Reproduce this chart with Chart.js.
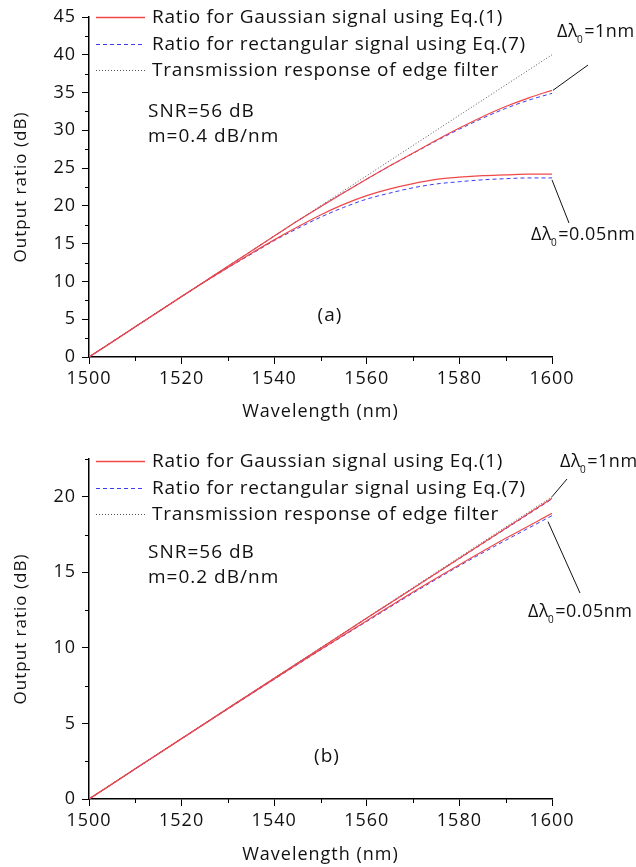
<!DOCTYPE html>
<html>
<head>
<meta charset="utf-8">
<script src="https://cdn.jsdelivr.net/npm/chart.js@4.4.1/dist/chart.umd.min.js"></script>
<style>
    html, body { margin: 0; padding: 0; background: #fff; }
    #wrap { position: relative; width: 636px; height: 867px; }
    canvas { position: absolute; left: 0; }
</style>
</head>
<body>
<div id="wrap">
    <canvas id="chartA" width="636" height="433" style="top:0"></canvas>
    <canvas id="chartB" width="636" height="434" style="top:433px"></canvas>
</div>
<script>
// panel (a): m = 0.4 dB/nm
const wavelengthA = [1500, 1510, 1520, 1525, 1530, 1535, 1540, 1545, 1550, 1555, 1560, 1565, 1570, 1575, 1580, 1585, 1590, 1595, 1600];
const gauss1nmA   = [0, 4, 8, 10, 12, 14, 16, 18, 19.9, 21.75, 23.55, 25.3, 27.0, 28.7, 30.3, 31.8, 33.15, 34.3, 35.3];
const rect1nmA    = [0, 4, 8, 10, 12, 14, 16, 18, 19.9, 21.75, 23.55, 25.3, 26.95, 28.6, 30.15, 31.6, 32.9, 34.0, 34.9];
const filterA     = [0, 4, 8, 10, 12, 14, 16, 18, 20, 22, 24, 26, 28, 30, 32, 34, 36, 38, 40];
const gauss005A   = [0, 4, 8, 9.95, 11.85, 13.7, 15.5, 17.2, 18.8, 20.2, 21.35, 22.25, 22.95, 23.5, 23.8, 24.0, 24.1, 24.2, 24.2];
const rect005A    = [0, 4, 8, 9.95, 11.8, 13.6, 15.4, 17.0, 18.5, 19.8, 20.9, 21.7, 22.4, 22.9, 23.2, 23.45, 23.6, 23.7, 23.7];

// panel (b): m = 0.2 dB/nm
const wavelengthB = [1500, 1510, 1520, 1530, 1540, 1550, 1560, 1570, 1580, 1590, 1600];
const gauss1nmB   = [0, 2, 4, 6, 7.99, 9.98, 11.97, 13.95, 15.93, 17.92, 19.9];
const rect1nmB    = [0, 2, 4, 6, 7.99, 9.98, 11.96, 13.94, 15.91, 17.88, 19.85];
const filterB     = [0, 2, 4, 6, 8, 10, 12, 14, 16, 18, 20];
const gauss005B   = [0, 2, 3.99, 5.97, 7.94, 9.9, 11.8, 13.7, 15.5, 17.25, 18.9];
const rect005B    = [0, 2, 3.99, 5.96, 7.92, 9.86, 11.75, 13.63, 15.43, 17.12, 18.75];

const legendLabels = [
    'Ratio for Gaussian signal using Eq.(1)',
    'Ratio for rectangular signal using Eq.(7)',
    'Transmission response of edge filter'
];

const FONT = "'Open Sans', sans-serif";
const RED = '#f04848';
const BLUE = '#3c3cf2';
const GREY = '#555555';

const toPoints = (xs, ys) => xs.map((x, i) => ({ x: x, y: ys[i] }));

function drawDelta(ctx, x, y, tail) {
    ctx.textAlign = 'left';
    ctx.textBaseline = 'middle';
    ctx.letterSpacing = '0.5px';
    ctx.font = `18px ${FONT}`;
    ctx.fillText('Δλ', x, y);
    const w = ctx.measureText('Δλ').width;
    ctx.font = `10px ${FONT}`;
    ctx.fillText('0', x + w - 1, y + 8);
    const w2 = ctx.measureText('0').width;
    ctx.font = `18px ${FONT}`;
    ctx.fillText(tail, x + w + w2, y);
}

// wider tracking for the text chart.js draws itself
const tracking = {
    id: 'tracking',
    beforeDraw(chart) {
        chart.ctx.letterSpacing = '1px';
    }
};

// minor ticks, legend and the notes on each panel
const panelText = {
    id: 'panelText',
    afterDraw(chart, args, opts) {
        const ctx = chart.ctx;
        const xs = chart.scales.x;
        const ys = chart.scales.y;
        ctx.save();

        // minor ticks
        ctx.strokeStyle = '#000';
        ctx.lineWidth = 1;
        ctx.setLineDash([]);
        xs.ticks.forEach(t => {
            if (t.value % 20 === 0) return;
            const px = Math.round(xs.getPixelForValue(t.value)) + 0.5;
            ctx.beginPath();
            ctx.moveTo(px, xs.top);
            ctx.lineTo(px, xs.top + 4);
            ctx.stroke();
        });
        ys.ticks.forEach(t => {
            if (t.value % 5 === 0) return;
            const py = Math.round(ys.getPixelForValue(t.value)) + 0.5;
            ctx.beginPath();
            ctx.moveTo(ys.right, py);
            ctx.lineTo(ys.right - 4, py);
            ctx.stroke();
        });

        // legend
        ctx.font = `19px ${FONT}`;
        ctx.letterSpacing = '0.7px';
        ctx.textAlign = 'left';
        ctx.textBaseline = 'middle';
        legendLabels.forEach((label, i) => {
            const ds = chart.data.datasets[i];
            const y = Math.round(opts.legendTop + i * 26.5) + 0.5;
            ctx.strokeStyle = ds.borderColor;
            ctx.lineWidth = ds.borderWidth === 1 ? 1 : 1.5;
            ctx.setLineDash(ds.borderDash || []);
            ctx.beginPath();
            ctx.moveTo(96, y);
            ctx.lineTo(145, y);
            ctx.stroke();
            ctx.fillStyle = '#111';
            ctx.fillText(label, 152, y);
        });
        ctx.setLineDash([]);

        // notes
        opts.notes.forEach(n => {
            ctx.font = `19px ${FONT}`;
            ctx.letterSpacing = '1px';
            ctx.textAlign = n.align || 'left';
            ctx.fillText(n.text, n.x, n.y);
        });

        // delta labels with leader lines
        ctx.strokeStyle = '#111';
        ctx.lineWidth = 1;
        opts.deltas.forEach(d => {
            drawDelta(ctx, d.x, d.y, d.tail);
            const sx = xs.getPixelForValue(d.atX) + d.dx;
            const sy = ys.getPixelForValue(d.atY) + d.dy;
            ctx.beginPath();
            ctx.moveTo(sx, sy);
            ctx.lineTo(d.endX, d.endY);
            ctx.stroke();
        });
        ctx.restore();
    }
};

function makeChart(id, cfg) {
    const line = (data, color, dash, width) => ({
        data: data,
        borderColor: color,
        borderWidth: width,
        borderDash: dash,
        pointRadius: 0,
        fill: false,
        tension: 0.4,
        cubicInterpolationMode: 'monotone'
    });

    return new Chart(document.getElementById(id), {
        type: 'line',
        data: {
            datasets: [
                line(toPoints(cfg.wl, cfg.gauss1nm), RED, [], 1.2),
                line(toPoints(cfg.wl, cfg.rect1nm), BLUE, [4, 3], 1),
                line(toPoints(cfg.wl, cfg.filter), GREY, [1, 2], 1),
                line(toPoints(cfg.wl, cfg.gauss005), RED, [], 1.2),
                line(toPoints(cfg.wl, cfg.rect005), BLUE, [4, 3], 1)
            ]
        },
        options: {
            responsive: false,
            animation: false,
            events: [],
            layout: { padding: { top: cfg.padTop, right: 84, left: 0, bottom: 0 } },
            plugins: {
                legend: { display: false },
                tooltip: { enabled: false },
                panelText: {
                    legendTop: cfg.legendTop,
                    notes: cfg.notes,
                    deltas: cfg.deltas
                }
            },
            scales: {
                x: {
                    type: 'linear',
                    min: 1500,
                    max: 1600,
                    border: { color: '#000', width: 1.5 },
                    grid: {
                        drawOnChartArea: false,
                        tickLength: 7,
                        tickWidth: 1,
                        tickColor: c => (c.tick && c.tick.value % 20 === 0) ? '#000' : 'rgba(0,0,0,0)'
                    },
                    ticks: {
                        stepSize: 10,
                        autoSkip: false,
                        maxRotation: 0,
                        padding: 4,
                        color: '#111',
                        font: { family: FONT, size: 18 },
                        callback: v => (v % 20 === 0 ? v : '')
                    },
                    title: {
                        display: true,
                        text: 'Wavelength (nm)',
                        color: '#111',
                        font: { family: FONT, size: 18 },
                        padding: { top: 0, bottom: cfg.xTitlePad }
                    },
                    afterFit: s => { s.height = cfg.xAxisHeight; }
                },
                y: {
                    min: 0,
                    max: cfg.yMax,
                    border: { color: '#000', width: 1.5 },
                    grid: {
                        drawOnChartArea: false,
                        tickLength: 7,
                        tickWidth: 1,
                        tickColor: c => (c.tick && c.tick.value % 5 === 0) ? '#000' : 'rgba(0,0,0,0)'
                    },
                    ticks: {
                        stepSize: 2.5,
                        autoSkip: false,
                        padding: 6,
                        color: '#111',
                        font: { family: FONT, size: 18 },
                        callback: v => (v % 5 === 0 ? v : '')
                    },
                    title: {
                        display: true,
                        text: 'Output ratio (dB)',
                        color: '#111',
                        font: { family: FONT, size: 17 },
                        padding: { top: 11, bottom: 0 }
                    },
                    afterFit: s => { s.width = 89; }
                }
            }
        },
        plugins: [tracking, panelText]
    });
}

makeChart('chartA', {
    wl: wavelengthA,
    gauss1nm: gauss1nmA, rect1nm: rect1nmA, filter: filterA,
    gauss005: gauss005A, rect005: rect005A,
    yMax: 45,
    padTop: 17,
    xAxisHeight: 76,
    xTitlePad: 10,
    legendTop: 17,
    notes: [
        { text: 'SNR=56 dB', x: 148, y: 112 },
        { text: 'm=0.4 dB/nm', x: 148, y: 137 },
        { text: '(a)', x: 330, y: 316, align: 'center' }
    ],
    deltas: [
        { x: 557, y: 32, tail: '=1nm', atX: 1600, atY: 35.3, dx: 1, dy: 0, endX: 588, endY: 65 },
        { x: 531, y: 235, tail: '=0.05nm', atX: 1600, atY: 23.7, dx: 0, dy: 2, endX: 569, endY: 223 }
    ]
});

makeChart('chartB', {
    wl: wavelengthB,
    gauss1nm: gauss1nmB, rect1nm: rect1nmB, filter: filterB,
    gauss005: gauss005B, rect005: rect005B,
    yMax: 22.5,
    padTop: 26,
    xAxisHeight: 68,
    xTitlePad: 1,
    legendTop: 28,
    notes: [
        { text: 'SNR=56 dB', x: 148, y: 120 },
        { text: 'm=0.2 dB/nm', x: 148, y: 145 },
        { text: '(b)', x: 327, y: 324, align: 'center' }
    ],
    deltas: [
        { x: 560, y: 29, tail: '=1nm', atX: 1600, atY: 20, dx: 0, dy: 0, endX: 567, endY: 46 },
        { x: 528, y: 179, tail: '=0.05nm', atX: 1600, atY: 18.75, dx: -4, dy: 6, endX: 580, endY: 160 }
    ]
});
</script>
</body>
</html>
